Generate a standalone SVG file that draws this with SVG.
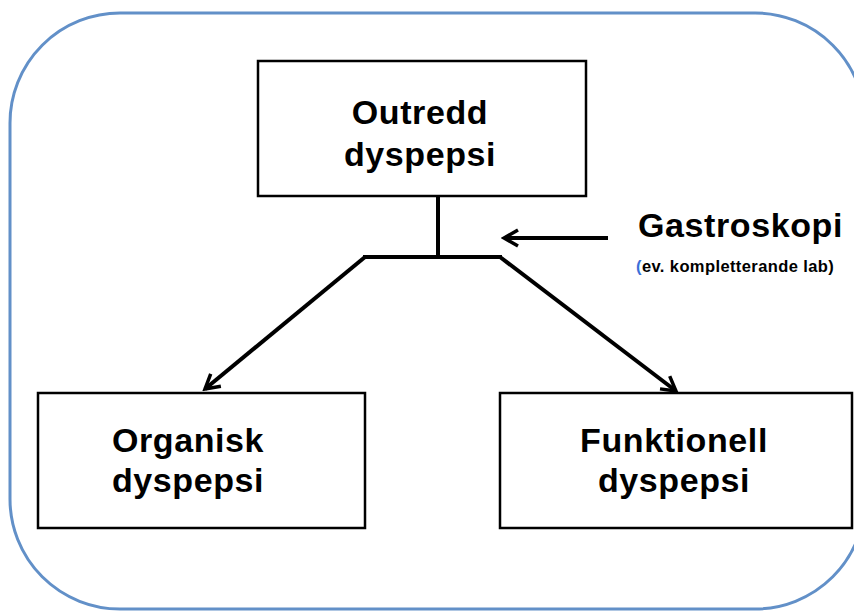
<svg xmlns="http://www.w3.org/2000/svg" width="854" height="613" viewBox="0 0 854 613">
<defs>
<style>
.box{fill:#fff;stroke:#000;stroke-width:2.5}
.t{font-family:"Liberation Sans",Arial,sans-serif;font-weight:bold;font-size:34px;letter-spacing:0.6px;fill:#000;text-anchor:middle}
.c{fill:none;stroke:#000;stroke-width:4}
</style>
<marker id="ah" viewBox="0 0 20 20" refX="17" refY="10" markerWidth="20" markerHeight="20" markerUnits="userSpaceOnUse" orient="auto">
<path d="M3,2 L17,10 L3,18" fill="none" stroke="#000" stroke-width="3.5" stroke-linejoin="miter"/>
</marker>
</defs>
<rect width="854" height="613" fill="#fff"/>
<rect x="10" y="13" width="855" height="596" rx="110" ry="110" fill="none" stroke="#6290c8" stroke-width="3"/>
<g id="n1">
<rect class="box" x="258" y="61" width="328" height="135"/>
<text class="t" x="420" y="124">Outredd</text>
<text class="t" x="420" y="166">dyspepsi</text>
</g>
<g id="n2">
<rect class="box" x="38" y="393" width="327" height="135"/>
<text class="t" x="188" y="452">Organisk</text>
<text class="t" x="188" y="492">dyspepsi</text>
</g>
<g id="n3">
<rect class="box" x="500" y="393" width="352" height="135"/>
<text class="t" x="674" y="452">Funktionell</text>
<text class="t" x="674" y="492">dyspepsi</text>
</g>
<g id="n4">
<text x="638" y="237" font-family="Liberation Sans,Arial,sans-serif" font-weight="bold" font-size="34" letter-spacing="0.6">Gastroskopi</text>
<text x="636" y="272" font-family="Liberation Sans,Arial,sans-serif" font-weight="bold" font-size="16.5" letter-spacing="0.4"><tspan fill="#3a6fd8">(</tspan>ev. kompletterande lab)</text>
</g>
<g id="connectors">
<path class="c" d="M438,196 L438,257"/>
<path class="c" d="M363,257 L502,257"/>
<path class="c" d="M365,257 L205,389" marker-end="url(#ah)"/>
<path class="c" d="M500,257 L676,391" marker-end="url(#ah)"/>
<path class="c" d="M608,238 L504,238" marker-end="url(#ah)"/>
</g>
</svg>
